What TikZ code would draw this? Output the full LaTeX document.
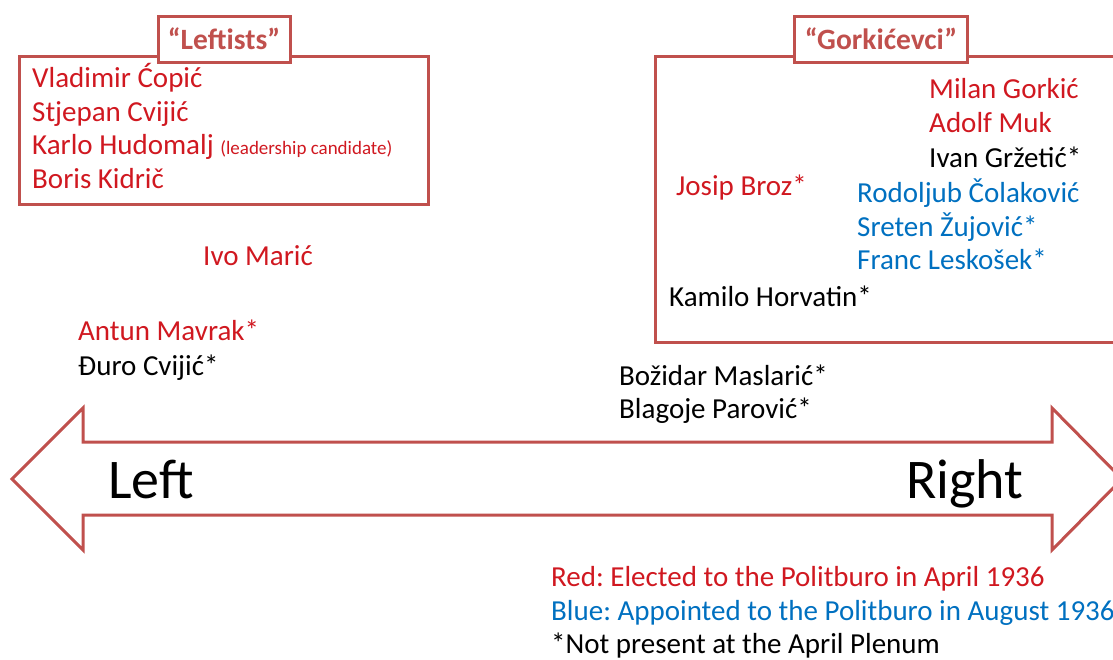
\documentclass[tikz,border=0pt]{standalone}
\usepackage{fontspec}
\setmainfont{Carlito}
\definecolor{boxred}{RGB}{192,80,77}
\definecolor{namered}{RGB}{208,24,32}
\definecolor{nameblue}{RGB}{0,112,192}
\frenchspacing
\begin{document}
\begin{tikzpicture}[x=1pt,y=-1pt,
	person/.style={anchor=base west, inner sep=0pt, font=\fontsize{29}{35}\selectfont},
	grouptitle/.style={draw=boxred, line width=3pt, fill=white, text=boxred, inner sep=0pt,
		font=\fontsize{29.5}{34}\bfseries, minimum height=46pt},
	side/.style={anchor=base west, inner sep=0pt, font=\fontsize{56}{64}\selectfont}]
	\useasboundingbox (0,0) rectangle (1113,659);
	\clip (0,0) rectangle (1113,659);
	
	% the two groups
	\draw[boxred, line width=3pt] (19,56) rectangle (428,204);
	\draw[boxred, line width=3pt] (655,56) rectangle (1130,342);
	\node[grouptitle, minimum width=132pt] (lefttitle) at (224,39) {“Leftists”};
	\node[grouptitle, minimum width=173pt] (gorktitle) at (881,39) {“Gorkićevci”};
	
	\node[person, namered] (copic) at (32,87) {Vladimir Ćopić};
	\node[person, namered] (scvijic) at (32,121) {Stjepan Cvijić};
	\node[person, namered] (hudomalj) at (32,154) {Karlo Hudomalj {\fontsize{19}{22}\selectfont (leadership candidate)}};
	\node[person, namered] (kidric) at (32,188) {Boris Kidrič};
	
	\node[person, namered] (maric) at (203,265) {Ivo Marić};
	\node[person, namered] (mavrak) at (78,340) {Antun Mavrak*};
	\node[person] (dcvijic) at (78,375) {Đuro Cvijić*};
	
	\node[person, namered] (gorkic) at (929,98) {Milan Gorkić};
	\node[person, namered] (muk) at (929,132) {Adolf Muk};
	\node[person] (grzetic) at (929,167) {Ivan Gržetić*};
	\node[person, namered] (broz) at (676,195) {Josip Broz*};
	\node[person, nameblue] (colakovic) at (857,202) {Rodoljub Čolaković};
	\node[person, nameblue] (zujovic) at (857,236) {Sreten Žujović*};
	\node[person, nameblue] (leskosek) at (857,269) {Franc Leskošek*};
	\node[person] (horvatin) at (669,306) {Kamilo Horvatin*};
	
	\node[person] (maslaric) at (619,385) {Božidar Maslarić*};
	\node[person] (parovic) at (619,418) {Blagoje Parović*};
	
	% left-right axis
	\draw[boxred, line width=3pt, fill=white] (12,479) -- (83,408) -- (83,442) -- (1052,442) -- (1052,408) -- (1122,479) -- (1052,550) -- (1052,515) -- (83,515) -- (83,550) -- cycle;
	\node[side] (left) at (108,498) {Left};
	\node[side] (right) at (906,498) {Right};
	
	% legend
	\node[person, namered] (legred) at (551,586) {Red: Elected to the Politburo in April 1936};
	\node[person, nameblue] (legblue) at (551,620) {Blue: Appointed to the Politburo in August 1936};
	\node[person] (legstar) at (551,653) {*Not present at the April Plenum};
\end{tikzpicture}
\end{document}
